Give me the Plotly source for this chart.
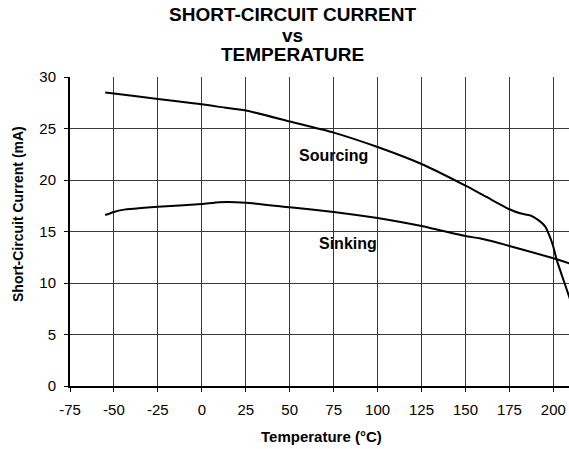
import plotly.graph_objects as go

# Température (°C) et courant (mA)
temp_sourcing = [-55, -50, -25, -5, 0, 10, 25, 50, 75, 100, 125, 150, 162, 175, 181, 187, 191.5, 195.3, 198, 200, 202, 209, 212]
i_sourcing = [28.5, 28.4, 27.86, 27.45, 27.35, 27.1, 26.75, 25.68, 24.6, 23.2, 21.55, 19.45, 18.35, 17.16, 16.77, 16.55, 16.1, 15.5, 14.5, 13.5, 12.2, 8.66, 7.0]

temp_sinking = [-55, -50, -45, -25, 0, 10, 25, 50, 75, 100, 125, 150, 158, 175, 200, 209, 212]
i_sinking = [16.6, 16.9, 17.1, 17.4, 17.67, 17.85, 17.8, 17.35, 16.9, 16.3, 15.53, 14.56, 14.34, 13.6, 12.4, 11.9, 11.7]

x_ticks = list(range(-75, 201, 25))
x_ticktext = [str(v) for v in x_ticks]  # tiret simple, pas le signe moins unicode
y_ticks = list(range(0, 31, 5))

FONT = "Liberation Sans, Arial, sans-serif"
GRID = "#3a3a3a"

W, H = 569, 449
M = dict(l=70, r=0, t=77, b=63)
PLOT_W = W - M["l"] - M["r"]
PLOT_H = H - M["t"] - M["b"]


def paper_x(px):
    return (px - M["l"]) / PLOT_W


def paper_y(px):
    return (H - M["b"] - px) / PLOT_H


fig = go.Figure()
for xs, ys in ((temp_sourcing, i_sourcing), (temp_sinking, i_sinking)):
    fig.add_trace(go.Scatter(
        x=xs, y=ys, mode="lines",
        line=dict(color="black", width=2, shape="spline", smoothing=0.5),
        showlegend=False, hoverinfo="skip",
    ))

# Étiquettes des courbes
fig.add_annotation(x=75, y=22.4, text="<b>Sourcing</b>", showarrow=False,
                   font=dict(size=16, color="black", family=FONT))
fig.add_annotation(x=83, y=13.8, text="<b>Sinking</b>", showarrow=False,
                   font=dict(size=16, color="black", family=FONT))

# Titre sur trois lignes, interligne serré
for text, px in (("SHORT-CIRCUIT CURRENT", 15), ("vs", 35.5), ("TEMPERATURE", 55)):
    fig.add_annotation(
        x=paper_x(292.5), xref="paper", xanchor="center",
        y=paper_y(px), yref="paper", yanchor="middle",
        text=f"<b>{text}</b>", showarrow=False,
        font=dict(size=19, color="black", family=FONT),
    )

# Titres des axes
fig.add_annotation(
    x=paper_x(321), xref="paper", y=paper_y(436.7), yref="paper", yanchor="middle",
    text="<b>Temperature (°C)</b>", showarrow=False,
    font=dict(size=15, color="black", family=FONT),
)
fig.add_annotation(
    x=paper_x(18), xref="paper", xanchor="center",
    y=paper_y(214), yref="paper", yanchor="middle",
    text="<b>Short-Circuit Current (mA)</b>", showarrow=False, textangle=-90,
    font=dict(size=14, color="black", family=FONT),
)

fig.update_layout(
    width=W, height=H,
    margin=M,
    paper_bgcolor="white", plot_bgcolor="white",
    font=dict(family=FONT, color="black", size=15),
    xaxis=dict(
        range=[-75, 208.9], tickvals=x_ticks, ticktext=x_ticktext,
        ticks="outside", ticklen=4, tickcolor="black", ticklabelstandoff=5,
        showgrid=True, gridcolor=GRID, gridwidth=1,
        showline=True, linecolor="black", linewidth=2, zeroline=False,
        tickfont=dict(size=15),
    ),
    yaxis=dict(
        range=[0, 30], tickvals=y_ticks, ticks="outside", ticklen=4,
        tickcolor="black", ticklabelstandoff=5,
        showgrid=True, gridcolor=GRID, gridwidth=1,
        showline=True, linecolor="black", linewidth=2, zeroline=False,
        tickfont=dict(size=15),
    ),
)

# Pas de marge de page autour de la figure, pas de barre d'outils
fig.write_html(
    "out.html",
    config={"displayModeBar": False},
    post_script="document.body.style.margin = '0';",
)
